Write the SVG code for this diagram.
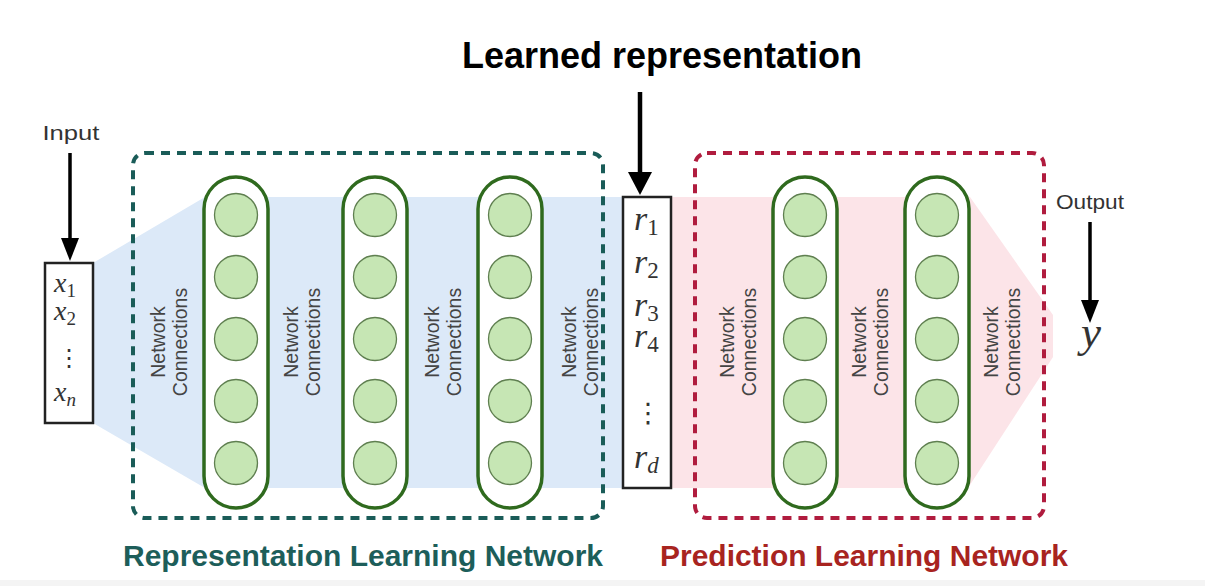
<svg xmlns="http://www.w3.org/2000/svg" width="1205" height="586" viewBox="0 0 1205 586">
<style>
.col{fill:#ffffff;stroke:#2f6a1e;stroke-width:3.5}
.n{fill:#c6e6b4;stroke:#5f7f50;stroke-width:1.3}
.nc{font-family:"Liberation Sans",Arial,sans-serif;font-size:19.5px;fill:#444;text-anchor:middle}
.lbl{font-family:"Liberation Sans",Arial,sans-serif;font-size:21px;fill:#333;text-anchor:middle}
.m{font-family:"Liberation Serif","DejaVu Serif",serif;font-style:italic;fill:#333}
.sub{font-style:normal}
.subi{font-style:italic}
.dots{font-family:"DejaVu Sans",sans-serif;fill:#333;text-anchor:middle}
.box{fill:#ffffff;stroke:#222;stroke-width:2.5}
.arr{stroke:#000;fill:none}
.title{font-family:"Liberation Sans",Arial,sans-serif;font-weight:bold;font-size:29px}
</style>
<defs>
<marker id="ah" markerUnits="userSpaceOnUse" markerWidth="26" markerHeight="26" viewBox="0 -13 26 26" refX="1" refY="0" orient="auto">
<path d="M0,-9 L23,0 L0,9 Z" fill="#000"/>
</marker>
<marker id="ahb" markerUnits="userSpaceOnUse" markerWidth="26" markerHeight="28" viewBox="0 -14 26 28" refX="1" refY="0" orient="auto">
<path d="M0,-12 L23,0 L0,12 Z" fill="#000"/>
</marker>
</defs>
<rect width="1205" height="586" fill="#ffffff"/>
<rect x="0" y="580" width="1205" height="6" fill="#f4f4f4"/>

<g id="regions">
<polygon points="93,263 205,197 623,197 623,488 205,488 93,423" fill="#dce9f8"/>
<polygon points="671,197 970,197 1053,315 1053,357 968,488 671,488" fill="#fce4e8"/>
</g>

<g id="rep-network">
<rect x="133" y="153" width="470" height="365" rx="12" fill="none" stroke="#1a5c58" stroke-width="4" stroke-dasharray="9 7"/>
</g>
<g id="pred-network">
<rect x="695" y="153" width="349" height="365" rx="12" fill="none" stroke="#b01c3e" stroke-width="4" stroke-dasharray="9 7"/>
</g>

<g id="layer1">
<rect class="col" x="204" y="177" width="64" height="331" rx="32"/>
<circle class="n" cx="236" cy="215" r="21.5"/><circle class="n" cx="236" cy="277" r="21.5"/><circle class="n" cx="236" cy="339" r="21.5"/><circle class="n" cx="236" cy="401" r="21.5"/><circle class="n" cx="236" cy="463" r="21.5"/>
</g>
<g id="layer2">
<rect class="col" x="343" y="177" width="64" height="331" rx="32"/>
<circle class="n" cx="375" cy="215" r="21.5"/><circle class="n" cx="375" cy="277" r="21.5"/><circle class="n" cx="375" cy="339" r="21.5"/><circle class="n" cx="375" cy="401" r="21.5"/><circle class="n" cx="375" cy="463" r="21.5"/>
</g>
<g id="layer3">
<rect class="col" x="478" y="177" width="64" height="331" rx="32"/>
<circle class="n" cx="510" cy="215" r="21.5"/><circle class="n" cx="510" cy="277" r="21.5"/><circle class="n" cx="510" cy="339" r="21.5"/><circle class="n" cx="510" cy="401" r="21.5"/><circle class="n" cx="510" cy="463" r="21.5"/>
</g>
<g id="layer4">
<rect class="col" x="773" y="177" width="64" height="331" rx="32"/>
<circle class="n" cx="805" cy="215" r="21.5"/><circle class="n" cx="805" cy="277" r="21.5"/><circle class="n" cx="805" cy="339" r="21.5"/><circle class="n" cx="805" cy="401" r="21.5"/><circle class="n" cx="805" cy="463" r="21.5"/>
</g>
<g id="layer5">
<rect class="col" x="905" y="177" width="64" height="331" rx="32"/>
<circle class="n" cx="937" cy="215" r="21.5"/><circle class="n" cx="937" cy="277" r="21.5"/><circle class="n" cx="937" cy="339" r="21.5"/><circle class="n" cx="937" cy="401" r="21.5"/><circle class="n" cx="937" cy="463" r="21.5"/>
</g>

<g id="net-labels">
<text class="nc" transform="translate(165,342) rotate(-90)"><tspan x="0" y="0">Network</tspan><tspan x="0" dy="22">Connections</tspan></text>
<text class="nc" transform="translate(298,342) rotate(-90)"><tspan x="0" y="0">Network</tspan><tspan x="0" dy="22">Connections</tspan></text>
<text class="nc" transform="translate(439,342) rotate(-90)"><tspan x="0" y="0">Network</tspan><tspan x="0" dy="22">Connections</tspan></text>
<text class="nc" transform="translate(576,342) rotate(-90)"><tspan x="0" y="0">Network</tspan><tspan x="0" dy="22">Connections</tspan></text>
<text class="nc" transform="translate(734,342) rotate(-90)"><tspan x="0" y="0">Network</tspan><tspan x="0" dy="22">Connections</tspan></text>
<text class="nc" transform="translate(866,342) rotate(-90)"><tspan x="0" y="0">Network</tspan><tspan x="0" dy="22">Connections</tspan></text>
<text class="nc" transform="translate(998,342) rotate(-90)"><tspan x="0" y="0">Network</tspan><tspan x="0" dy="22">Connections</tspan></text>
</g>

<g id="input">
<text class="lbl" x="71" y="140" textLength="57" lengthAdjust="spacingAndGlyphs">Input</text>
<rect class="box" x="45" y="263" width="48" height="160"/>
<text class="m" x="54" y="292" font-size="28">x<tspan class="sub" font-size="19" dy="5">1</tspan></text>
<text class="m" x="54" y="320" font-size="28">x<tspan class="sub" font-size="19" dy="5">2</tspan></text>
<text class="dots" x="69" y="366" font-size="24">⋮</text>
<text class="m" x="54" y="401" font-size="28">x<tspan class="subi" font-size="19" dy="5">n</tspan></text>
</g>

<g id="learned">
<text class="title" x="662" y="68" fill="#000" text-anchor="middle" style="font-size:36px">Learned representation</text>
<rect class="box" x="623" y="197" width="48" height="291"/>
<text class="m" x="634" y="230" font-size="34">r<tspan class="sub" font-size="23" dy="5">1</tspan></text>
<text class="m" x="634" y="273" font-size="34">r<tspan class="sub" font-size="23" dy="5">2</tspan></text>
<text class="m" x="634" y="316" font-size="34">r<tspan class="sub" font-size="23" dy="5">3</tspan></text>
<text class="m" x="634" y="347" font-size="34">r<tspan class="sub" font-size="23" dy="5">4</tspan></text>
<text class="dots" x="648" y="422" font-size="27">⋮</text>
<text class="m" x="634" y="468" font-size="34">r<tspan class="subi" font-size="23" dy="5">d</tspan></text>
</g>

<g id="output">
<text class="lbl" x="1090" y="209" textLength="68" lengthAdjust="spacingAndGlyphs">Output</text>
<text class="m" x="1081" y="347" font-size="45">y</text>
</g>

<g id="connectors">
<line class="arr" x1="70" y1="153" x2="70" y2="239" stroke-width="3.5" marker-end="url(#ah)"/>
<line class="arr" x1="640" y1="92" x2="640" y2="173" stroke-width="4.5" marker-end="url(#ahb)"/>
<line class="arr" x1="1090" y1="222" x2="1090" y2="301" stroke-width="3.5" marker-end="url(#ah)"/>
</g>

<g id="titles">
<text class="title" x="123" y="566" fill="#1d5e5a" textLength="480" lengthAdjust="spacingAndGlyphs">Representation Learning Network</text>
<text class="title" x="660" y="566" fill="#a8241f" textLength="408" lengthAdjust="spacingAndGlyphs">Prediction Learning Network</text>
</g>
</svg>
